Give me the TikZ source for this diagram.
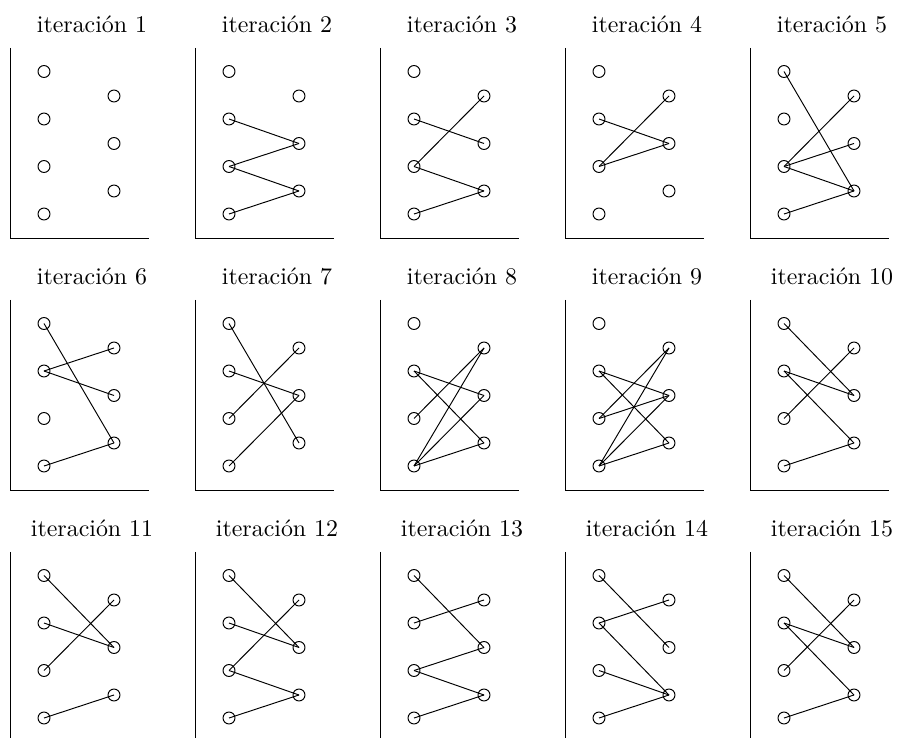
\documentclass[tikz,border=0pt]{standalone}
\usepackage{fontspec}
\tikzset{
  pt/.style={circle,draw,line width=0.4pt,inner sep=0pt,minimum size=5pt},
  ttl/.style={anchor=base,inner sep=0pt},
  axisline/.style={line width=0.4pt},
  link/.style={line width=0.4pt}
}
\newcommand\panel[3]{%
  \begin{scope}[shift={(#2,#3)}]
    \node[ttl] (t#1) at (82,33) {iteración #1};
    \coordinate (top#1) at (0,48);
    \coordinate (o#1) at (0,238);
    \coordinate (end#1) at (139,238);
    \draw[axisline] (top#1) -- (o#1) -- (end#1);
    \node[pt] (p#1l1) at (34,71.5) {};
    \node[pt] (p#1l2) at (34,119) {};
    \node[pt] (p#1l3) at (34,166.5) {};
    \node[pt] (p#1l4) at (34,214) {};
    \node[pt] (p#1r1) at (104,96) {};
    \node[pt] (p#1r2) at (104,143.5) {};
    \node[pt] (p#1r3) at (104,191) {};
  \end{scope}}
\newcommand\links[2]{\foreach \a/\b in {#2} {\draw[link] (p#1l\a.center) -- (p#1r\b.center);}}
\begin{document}
\begin{tikzpicture}[x=0.4184pt,y=-0.4184pt]
\useasboundingbox (0,0) rectangle (897,738);
\panel{1}{10}{0}
\panel{2}{195}{0}
\panel{3}{380}{0}
\panel{4}{565}{0}
\panel{5}{750}{0}
\panel{6}{10}{252}
\panel{7}{195}{252}
\panel{8}{380}{252}
\panel{9}{565}{252}
\panel{10}{750}{252}
\panel{11}{10}{504}
\panel{12}{195}{504}
\panel{13}{380}{504}
\panel{14}{565}{504}
\panel{15}{750}{504}
\links{2}{2/2,3/2,3/3,4/3}
\links{3}{2/2,3/1,3/3,4/3}
\links{4}{2/2,3/1,3/2}
\links{5}{1/3,3/1,3/2,3/3,4/3}
\links{6}{1/3,2/1,2/2,4/3}
\links{7}{1/3,2/2,3/1,4/2}
\links{8}{2/2,2/3,3/1,4/1,4/2,4/3}
\links{9}{2/2,2/3,3/1,3/2,4/1,4/2,4/3}
\links{10}{1/2,2/2,2/3,3/1,4/3}
\links{11}{1/2,2/2,3/1,4/3}
\links{12}{1/2,2/2,3/1,3/3,4/3}
\links{13}{1/2,2/1,3/2,3/3,4/3}
\links{14}{1/2,2/1,2/3,3/3,4/3}
\links{15}{1/2,2/2,2/3,3/1,4/3}
\end{tikzpicture}
\end{document}
